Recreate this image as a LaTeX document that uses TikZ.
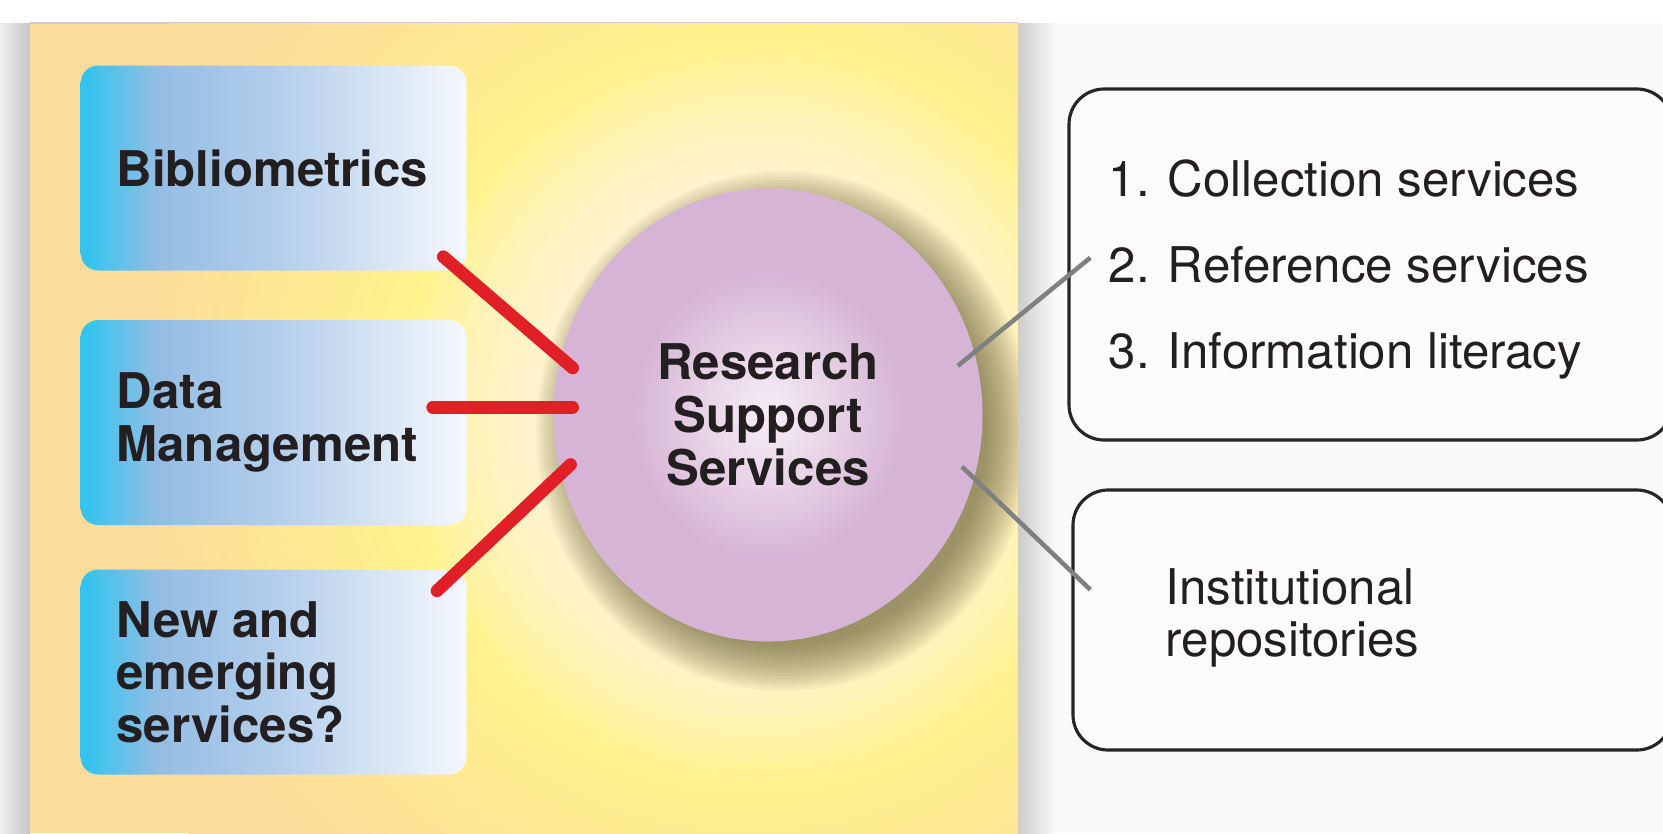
\documentclass[tikz,border=0pt]{standalone}
\usepackage{fontspec}
\setmainfont{TeX Gyre Heros}
\usetikzlibrary{shapes.geometric}

\definecolor{paneorange}{HTML}{FCDC9A}
\definecolor{glowyellow}{HTML}{FFF38C}
\definecolor{lilac}{HTML}{D6B4D5}
\definecolor{lilaclight}{HTML}{F8EFF7}
\definecolor{boxcyan}{HTML}{36C4EF}
\definecolor{boxblue}{HTML}{94BDE4}
\definecolor{boxmid}{HTML}{B2CDEB}
\definecolor{boxwhite}{HTML}{F5F8FD}
\definecolor{linkred}{HTML}{E11F26}
\definecolor{inkblack}{HTML}{231F20}
\definecolor{shadowolive}{HTML}{5A5020}

\pgfdeclarehorizontalshading{boxshade}{100bp}{color(0bp)=(boxcyan); color(26bp)=(boxcyan); color(35bp)=(boxblue); color(50bp)=(boxmid); color(75bp)=(boxwhite); color(100bp)=(boxwhite)}
\pgfdeclareradialshading{glowshade}{\pgfpointorigin}{color(0bp)=(glowyellow); color(12.5bp)=(glowyellow); color(22bp)=(paneorange); color(50bp)=(paneorange)}
\pgfdeclareradialshading{rssshade}{\pgfpointorigin}{color(0bp)=(lilaclight); color(16bp)=(lilac); color(50bp)=(lilac)}

\tikzset{
  topic/.style={shade, shading=boxshade, rounded corners=5pt, minimum width=3.86cm, minimum height=2.05cm, inner sep=0pt},
  topictext/.style={anchor=west, align=left, inner sep=0pt, text=inkblack, font=\fontsize{14}{15}\selectfont\bfseries},
  outbox/.style={draw=black!85, line width=0.9pt, fill=gray!3, rounded corners=10pt, inner sep=0pt},
  outtext/.style={anchor=west, align=left, inner sep=0pt, text=inkblack, font=\fontsize{14}{15}\selectfont},
  redlink/.style={linkred, line width=3.6pt, line cap=round},
  greylink/.style={black!50, line width=1.3pt}
}

\begin{document}
\begin{tikzpicture}
\useasboundingbox (0,0) rectangle (16.63,8.33);
\clip (0,0) rectangle (16.63,8.33);

% backdrop and panel
\shade[left color=gray!12, right color=gray!45] (0,0) rectangle (0.30,8.10);
\fill[gray!4] (10.18,0) rectangle (16.63,8.10);
\shade[left color=gray!40, right color=gray!4] (10.18,0) rectangle (10.55,8.10);
\fill[paneorange] (0.30,0) rectangle (10.18,8.10);
\draw[gray!40, line width=0.4pt] (0.30,8.10) -- (10.18,8.10);

\begin{scope}
\clip (0.30,0) rectangle (10.18,8.10);
\shade[shading=glowshade] (7.5,4.18) circle (7cm);
\foreach \g in {1,...,20}
  \fill[white, opacity=0.05] (7.58,4.18) ellipse ({2.145cm+\g*0.7mm} and {2.265cm+\g*0.7mm});
\foreach \s in {1,...,16}
  \fill[shadowolive, opacity=0.05] (7.84,4.02) ellipse ({2.0cm+\s*0.3mm} and {2.12cm+\s*0.3mm});
\end{scope}

% centre
\node[ellipse, shade, shading=rssshade, minimum width=4.29cm, minimum height=4.53cm, inner sep=0pt, align=center, text=inkblack, font=\fontsize{14}{15}\selectfont\bfseries] (rss) at (7.68,4.18) {Research\\Support\\Services};

% left topics
\node[topic] (bib) at (2.736,6.65) {};
\node[topic] (dm) at (2.736,4.105) {};
\node[topic] (new) at (2.736,1.61) {};
\node[topictext] (bibtext) at ([xshift=3.6mm]bib.west) {Bibliometrics};
\node[topictext] (dmtext) at ([xshift=3.6mm]dm.west) {Data\\Management};
\node[topictext] (newtext) at ([xshift=3.6mm]new.west) {New and\\emerging\\services?};

% right boxes
\node[outbox, minimum width=6.03cm, minimum height=3.51cm] (trad) at (13.705,5.685) {};
\node[outbox, minimum width=5.99cm, minimum height=2.60cm] (ir) at (13.725,2.13) {};
\node[outtext, font=\fontsize{14}{24.5}\selectfont] (tradtext) at (11.08,5.635) {1. Collection services\\2. Reference services\\3. Information literacy};
\node[outtext] (irtext) at (11.65,2.15) {Institutional\\repositories};

% links
\coordinate (r1a) at (4.433,5.763);
\coordinate (r1b) at (5.727,4.65);
\coordinate (r2a) at (4.327,4.257);
\coordinate (r2b) at (5.727,4.257);
\coordinate (r3a) at (4.37,2.422);
\coordinate (r3b) at (5.706,3.685);
\coordinate (g1a) at (9.577,4.671);
\coordinate (g1b) at (10.903,5.753);
\coordinate (g2a) at (9.62,3.663);
\coordinate (g2b) at (10.903,2.433);
\draw[redlink] (r1a) -- (r1b);
\draw[redlink] (r2a) -- (r2b);
\draw[redlink] (r3a) -- (r3b);
\draw[greylink] (g1a) -- (g1b);
\draw[greylink] (g2a) -- (g2b);
\end{tikzpicture}
\end{document}
